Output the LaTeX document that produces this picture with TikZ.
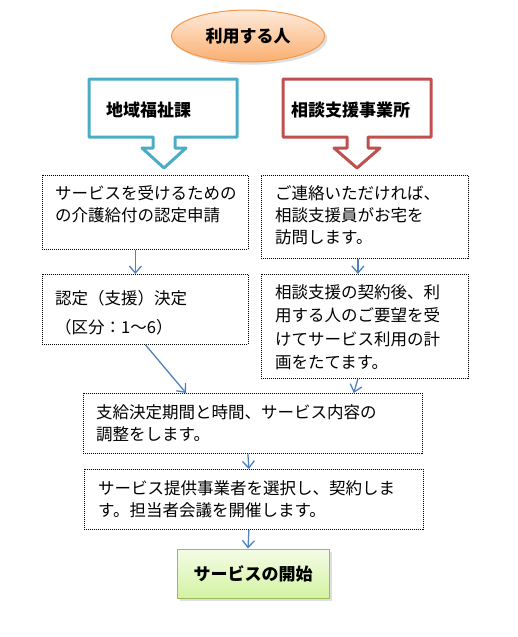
\documentclass[tikz,border=0pt]{standalone}
\usepackage{fontspec}
\setmainfont{Noto Sans CJK JP}
\usetikzlibrary{shapes.geometric,arrows.meta,shadows,calc}
\definecolor{flowblue}{HTML}{4F81BD}
\definecolor{kablue}{HTML}{4BACC6}
\definecolor{jigred}{HTML}{C0504D}
\definecolor{ovline}{HTML}{F79646}
\definecolor{ovtop}{HTML}{FEEBDC}
\definecolor{ovbot}{HTML}{FAAE6E}
\definecolor{stline}{HTML}{9BBB59}
\definecolor{sttop}{HTML}{F4FCE6}
\definecolor{stbot}{HTML}{D3F3A2}
\begin{document}
\begin{tikzpicture}[x=1pt,y=-1pt,
	dotbox/.style={draw, dash pattern=on 1pt off 1pt, line width=0.8pt, anchor=north west, inner sep=0pt},
	txt/.style={anchor=north west, align=left, inner sep=0pt, font=\fontsize{16.5}{22}\selectfont},
	head/.style={inner sep=0pt, font=\fontsize{17}{20}\selectfont\bfseries},
	flow/.style={draw=flowblue, line width=1.3pt, -{Straight Barb[length=7pt,width=12pt]}}]
		\useasboundingbox (0,0) rectangle (517,637);
		
		\node[ellipse, draw=ovline, line width=1pt, top color=ovtop, bottom color=ovbot,
		minimum width=153pt, minimum height=52pt, drop shadow={opacity=0.25}, head] (user) at (248,36) {利用する人};
		
		\draw[kablue, line width=3pt, line join=round, fill=white]
		(89,79) -- (237,79) -- (237,137) -- (175,137) -- (175,148) -- (186,148) -- (164,168)
		-- (142,148) -- (153,148) -- (153,137) -- (89,137) -- cycle;
		\node[head, anchor=west] (fukushi) at (106,110) {地域福祉課};
		
		\draw[jigred, line width=3pt, line join=round, fill=white]
		(283,79) -- (431,79) -- (431,137) -- (368,137) -- (368,148) -- (380,148) -- (357,168)
		-- (334,148) -- (347,148) -- (347,137) -- (283,137) -- cycle;
		\node[head, anchor=west] (soudan) at (291,110) {相談支援事業所};
		
		\node[dotbox, minimum width=206pt, minimum height=74pt] (b1) at (42,175) {};
		\node[txt] (t1) at (55,185) {サービスを受けるための\\の介護給付の認定申請};
		
		\node[dotbox, minimum width=207pt, minimum height=83pt] (b2) at (261,175) {};
		\node[txt] (t2) at (275,185) {ご連絡いただければ、\\相談支援員がお宅を\\訪問します。};
		
		\node[dotbox, minimum width=206pt, minimum height=70pt] (b3) at (42,274) {};
		\node[txt] (t3) at (55,290) {認定（支援）決定\\[7pt]（区分：1～6）};
		
		\node[dotbox, minimum width=207pt, minimum height=104pt] (b4) at (261,274) {};
		\node[txt, font=\fontsize{16.5}{23.5}\selectfont] (t4) at (275,284)
		{相談支援の契約後、利\\用する人のご要望を受\\けてサービス利用の計\\画をたてます。};
		
		\node[dotbox, minimum width=339pt, minimum height=60pt] (b5) at (83,393) {};
		\node[txt] (t5) at (96,404) {支給決定期間と時間、サービス内容の\\調整をします。};
		
		\node[dotbox, minimum width=339pt, minimum height=60pt] (b6) at (84,469) {};
		\node[txt] (t6) at (98,480) {サービス提供事業者を選択し、契約しま\\す。担当者会議を開催します。};
		
		\node[draw=stline, line width=1pt, top color=sttop, bottom color=stbot, minimum width=152pt,
		minimum height=49pt, drop shadow={opacity=0.25}, head] (start) at (253,573.5) {サービスの開始};
		
		\draw[flow] ($(b1.south)+(-10,0)$) -- ($(b3.north)+(-10,0)$);
		\draw[flow] ($(b2.south)+(-7,0)$) -- ($(b4.north)+(-7,0)$);
		\draw[flow] (b3.south) -- ($(b5.north west)+(103,0)$);
		\draw[flow] ($(b4.south)+(-7,0)$) -- ($(b5.north east)+(-69,0)$);
		\draw[flow] ($(b5.south)+(-5,0)$) -- ($(b6.north)+(-5,0)$);
		\draw[flow] ($(b6.south)+(-5,0)$) -- ($(start.north)+(-5,0)$);
\end{tikzpicture}
\end{document}
